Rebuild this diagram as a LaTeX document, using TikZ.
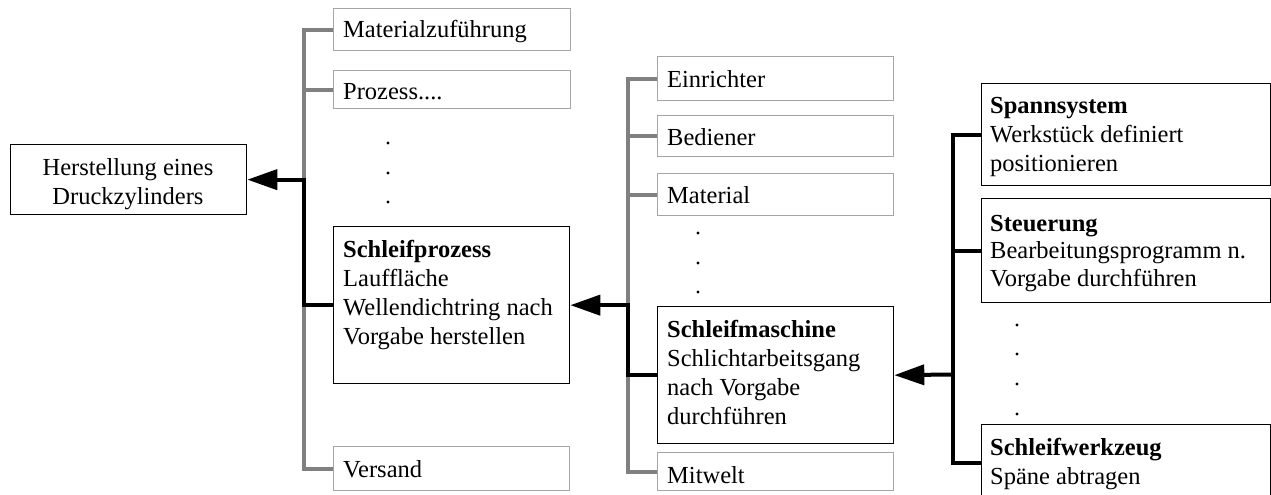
\documentclass[tikz,border=0pt]{standalone}
\usepackage{fontspec}
\setmainfont{Liberation Serif}
\usetikzlibrary{arrows.meta,calc}
\definecolor{linegray}{RGB}{128,128,128}
\definecolor{boxgray}{RGB}{165,165,165}
\begin{document}
\begin{tikzpicture}[x=1pt,y=-1pt,
  mainbox/.style={draw=black,line width=1.3pt,rectangle,inner sep=0pt,anchor=north west},
  subbox/.style={draw=boxgray,line width=1.2pt,rectangle,inner sep=0pt,anchor=north west},
  txt/.style={inner sep=0pt,anchor=north west,align=left,font=\fontsize{24.5}{29}\selectfont},
  glink/.style={draw=linegray,line width=4pt},
  blink/.style={draw=black,line width=4pt},
  arr/.style={-{Triangle[length=30pt,width=20pt]}},
  dotmark/.style={circle,fill=black,inner sep=0pt,minimum size=3.4pt}]
\useasboundingbox (0,0) rectangle (1271,495);
\clip (0,0) rectangle (1271,495);

% boxes
\node[mainbox,minimum width=236pt,minimum height=70pt] (H) at (10,144) {};
\node[subbox,minimum width=237pt,minimum height=42pt] (Mat) at (333,8) {};
\node[subbox,minimum width=237pt,minimum height=38pt] (Proz) at (333,70) {};
\node[mainbox,minimum width=236pt,minimum height=157pt] (SP) at (333,226) {};
\node[subbox,minimum width=236pt,minimum height=44pt] (Vers) at (333,446) {};
\node[subbox,minimum width=236pt,minimum height=44pt] (Ein) at (657,56) {};
\node[subbox,minimum width=236pt,minimum height=41pt] (Bed) at (657,115) {};
\node[subbox,minimum width=236pt,minimum height=42pt] (Matl) at (657,173) {};
\node[mainbox,minimum width=236pt,minimum height=137pt] (SM) at (657,306) {};
\node[subbox,minimum width=236pt,minimum height=38pt] (Mit) at (657,452) {};
\node[mainbox,minimum width=289pt,minimum height=102pt] (Spann) at (981,83) {};
\node[mainbox,minimum width=289pt,minimum height=104pt] (Steu) at (981,198) {};
\node[mainbox,minimum width=289pt,minimum height=76pt] (SW) at (981,424) {};

% texts (strut height = 0.7*29 = 20.3)
\node[txt,align=center,anchor=north] (Ht) at (128,154.7) {\strut Herstellung eines\\Druckzylinders};
\node[txt] (Matt) at (343,16.7) {\strut Materialzuführung};
\node[txt] (Prozt) at (343,78.7) {\strut Prozess....};
\node[txt] (SPt) at (343,236.7) {\strut\textbf{Schleifprozess}\\Lauffläche\\Wellendichtring nach\\Vorgabe herstellen};
\node[txt] (Verst) at (343,456.7) {\strut Versand};
\node[txt] (Eint) at (667,66.7) {\strut Einrichter};
\node[txt] (Bedt) at (667,124.7) {\strut Bediener};
\node[txt] (Matlt) at (667,182.7) {\strut Material};
\node[txt] (SMt) at (667,316.7) {\strut\textbf{Schleifmaschine}\\Schlichtarbeitsgang\\nach Vorgabe\\durchführen};
\node[txt] (Mitt) at (667,462.7) {\strut Mitwelt};
\node[txt] (Spannt) at (990,92.7) {\strut\textbf{Spannsystem}\\Werkstück definiert\\positionieren};
\node[txt,font=\fontsize{24.5}{27.5}\selectfont] (Steut) at (990,211.7) {\strut\textbf{Steuerung}\\Bearbeitungsprogramm n.\\Vorgabe durchführen};
\node[txt] (SWt) at (990,434.7) {\strut\textbf{Schleifwerkzeug}\\Späne abtragen};

% dots
\foreach \y [count=\i] in {143,173,202} \node[dotmark] (d1\i) at (388,\y) {};
\foreach \y [count=\i] in {233,263,292} \node[dotmark] (d2\i) at (698,\y) {};
\foreach \y [count=\i] in {325,354,384,414} \node[dotmark] (d3\i) at (1017,\y) {};

% left tree
\draw[glink] (Mat.west) -- ++(-29,0) |- (Vers.west);
\draw[glink] (Proz.west) -- ++(-29,0);
\draw[blink,arr] (SP.west) -- ++(-29,0) |- (H.east);

% middle tree
\draw[glink] (Ein.west) -- ++(-29,0) |- (Mit.west);
\draw[glink] (Bed.west) -- ++(-29,0);
\draw[glink] (Matl.west) -- ++(-29,0);
\draw[blink,arr] (SM.west) -- ++(-29,0) |- (SP.east);

% right tree
\coordinate (j3) at (953,374.5);
\draw[blink] (Spann.west) -- ++(-28,0) |- (SW.west);
\draw[blink] (Steu.west) -- ++(-28,0);
\draw[blink,arr] (j3) -- (SM.east);
\end{tikzpicture}
\end{document}
